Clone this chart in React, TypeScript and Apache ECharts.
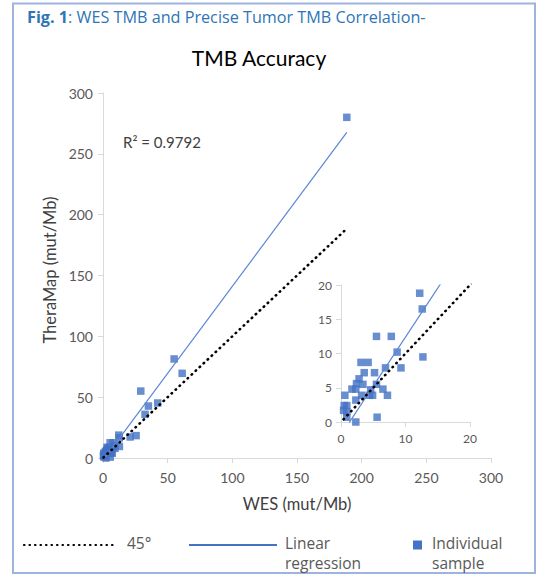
import React, { useEffect, useRef } from "react";
import * as echarts from "echarts";

// Individual samples: WES TMB (x) vs TheraMap TMB (y), mut/Mb
const sampleWES = [
  12.2, 12.6, 5.5, 7.8, 8.7, 12.7, 3.1, 4.2, 3.6, 5.2, 6.9, 9.3, 2.8, 2.4, 3.4,
  5.5, 1.7, 2.3, 6.5, 4.6, 0.6, 3.2, 4.4, 4.9, 7.2, 2.3, 0.5, 0.9, 0.4, 0.9,
  0.9, 5.6, 2.3, 21.0, 25.6, 32.5, 35.1, 42.3, 29.2, 55.0, 61.2, 188.5,
];
const sampleTheraMap = [
  18.8, 16.5, 12.5, 12.5, 10.2, 9.5, 8.7, 8.7, 7.2, 7.2, 7.9, 7.9, 6.3, 5.6, 5.5,
  5.5, 4.8, 4.8, 4.8, 4.7, 3.9, 3.9, 3.9, 3.9, 3.9, 3.2, 2.4, 2.4, 1.7, 1.5,
  0.7, 0.7, 0.0, 17.3, 18.4, 35.9, 42.7, 45.2, 55.0, 81.4, 69.6, 280.0,
];

// Linear regression (R² = 0.9792) and 45° reference
const regSlope = 1.43;
const regIntercept = -1.9;
const rSquaredLabel = "R² = 0.9792";
const lineXRange = [0.4, 188.5];

const mainTicks = { min: 0, max: 300, interval: 50 };
const insetXTicks = { min: 0, max: 20, interval: 10 };
const insetYTicks = { min: 0, max: 20, interval: 5 };

const BLUE = "#4472c4";
const FONT = "Lato";
const SANS = "Open Sans";

export default function App() {
  const ref = useRef<HTMLDivElement>(null);

  useEffect(() => {
    document.body.style.margin = "0";
    const chart = echarts.init(ref.current!, null, { renderer: "svg" });

    const points = sampleWES.map((x, i) => [x, sampleTheraMap[i]]);
    const regLine = lineXRange.map((x) => [x, regSlope * x + regIntercept]);
    const identityLine = lineXRange.map((x) => [x, x]);

    const axisLine = { show: true, lineStyle: { color: "#d9d9d9", width: 1 } };
    const axisTick = { show: true, length: 5, lineStyle: { color: "#d9d9d9" } };

    const mkAxis = (grid: number, t: any, fs: number, margin: number) => ({
      type: "value",
      gridIndex: grid,
      min: t.min,
      max: t.max,
      interval: t.interval,
      axisLine,
      axisTick,
      splitLine: { show: false },
      axisLabel: { color: "#595959", fontSize: fs, fontFamily: FONT, margin },
    });

    const seriesFor = (idx: number) => [
      {
        type: "scatter",
        xAxisIndex: idx,
        yAxisIndex: idx,
        data: points,
        symbol: "rect",
        symbolSize: 7.5,
        itemStyle: { color: BLUE },
        clip: true,
        z: 2,
      },
      {
        type: "line",
        xAxisIndex: idx,
        yAxisIndex: idx,
        data: regLine,
        showSymbol: false,
        symbol: "none",
        lineStyle: { color: "#5b86d6", width: 1.2 },
        clip: true,
        z: 3,
      },
      {
        type: "line",
        xAxisIndex: idx,
        yAxisIndex: idx,
        data: identityLine,
        showSymbol: false,
        symbol: "none",
        lineStyle: { color: "#000", width: 2.6, type: [0.5, 5], cap: "round" },
        clip: true,
        z: 4,
      },
    ];

    chart.setOption({
      animation: false,
      grid: [
        { left: 103, top: 93, width: 388, height: 365 },
        { left: 341, top: 285, width: 129, height: 137 },
      ],
      xAxis: [mkAxis(0, mainTicks, 14, 12), mkAxis(1, insetXTicks, 12, 10)],
      yAxis: [mkAxis(0, mainTicks, 14, 10), mkAxis(1, insetYTicks, 12, 9)],
      series: [...seriesFor(0), ...seriesFor(1)],
      graphic: [
        {
          type: "rect",
          shape: { x: 13, y: 3.5, width: 522, height: 569.5 },
          style: { fill: "none", stroke: "#9db4e0", lineWidth: 2 },
        },
        {
          type: "text",
          x: 27,
          y: 17,
          style: {
            text: "{b|Fig. 1}: WES TMB and Precise Tumor TMB Correlation-",
            fill: "#2e75b6",
            font: `16.2px "${SANS}"`,
            verticalAlign: "middle",
            rich: {
              b: { fontWeight: "bold", fill: "#2e75b6", fontSize: 16.2, fontFamily: SANS },
            },
          },
        },
        {
          type: "text",
          x: 259,
          y: 57,
          style: {
            text: "TMB Accuracy",
            fill: "#000",
            font: `21px "${FONT}"`,
            align: "center",
            verticalAlign: "middle",
          },
        },
        {
          type: "text",
          x: 123,
          y: 142,
          style: {
            text: rSquaredLabel,
            fill: "#404040",
            font: `15px "${FONT}"`,
            verticalAlign: "middle",
          },
        },
        {
          type: "text",
          x: 50,
          y: 270,
          rotation: Math.PI / 2,
          style: {
            text: "TheraMap (mut/Mb)",
            fill: "#404040",
            font: `16.5px "${FONT}"`,
            align: "center",
            verticalAlign: "middle",
          },
        },
        {
          type: "text",
          x: 297,
          y: 504,
          style: {
            text: "WES (mut/Mb)",
            fill: "#404040",
            font: `16.5px "${FONT}"`,
            align: "center",
            verticalAlign: "middle",
          },
        },
        // Legend
        {
          type: "line",
          shape: { x1: 24, y1: 545, x2: 113, y2: 545 },
          style: { stroke: "#000", lineWidth: 2.2, lineDash: [0.5, 5], lineCap: "round" },
        },
        {
          type: "text",
          x: 127,
          y: 543,
          style: { text: "45°", fill: "#595959", font: `15.5px "${SANS}"`, verticalAlign: "middle" },
        },
        {
          type: "line",
          shape: { x1: 189, y1: 545, x2: 277, y2: 545 },
          style: { stroke: BLUE, lineWidth: 2 },
        },
        {
          type: "text",
          x: 285,
          y: 553,
          style: {
            text: "Linear\nregression",
            fill: "#595959",
            font: `15.5px "${SANS}"`,
            verticalAlign: "middle",
            lineHeight: 20,
          },
        },
        {
          type: "rect",
          shape: { x: 413, y: 540.5, width: 9, height: 9 },
          style: { fill: BLUE },
        },
        {
          type: "text",
          x: 432,
          y: 553,
          style: {
            text: "Individual\nsample",
            fill: "#595959",
            font: `15.5px "${SANS}"`,
            verticalAlign: "middle",
            lineHeight: 20,
          },
        },
      ],
    });

    return () => chart.dispose();
  }, []);

  return <div ref={ref} style={{ width: 541, height: 575 }} />;
}
